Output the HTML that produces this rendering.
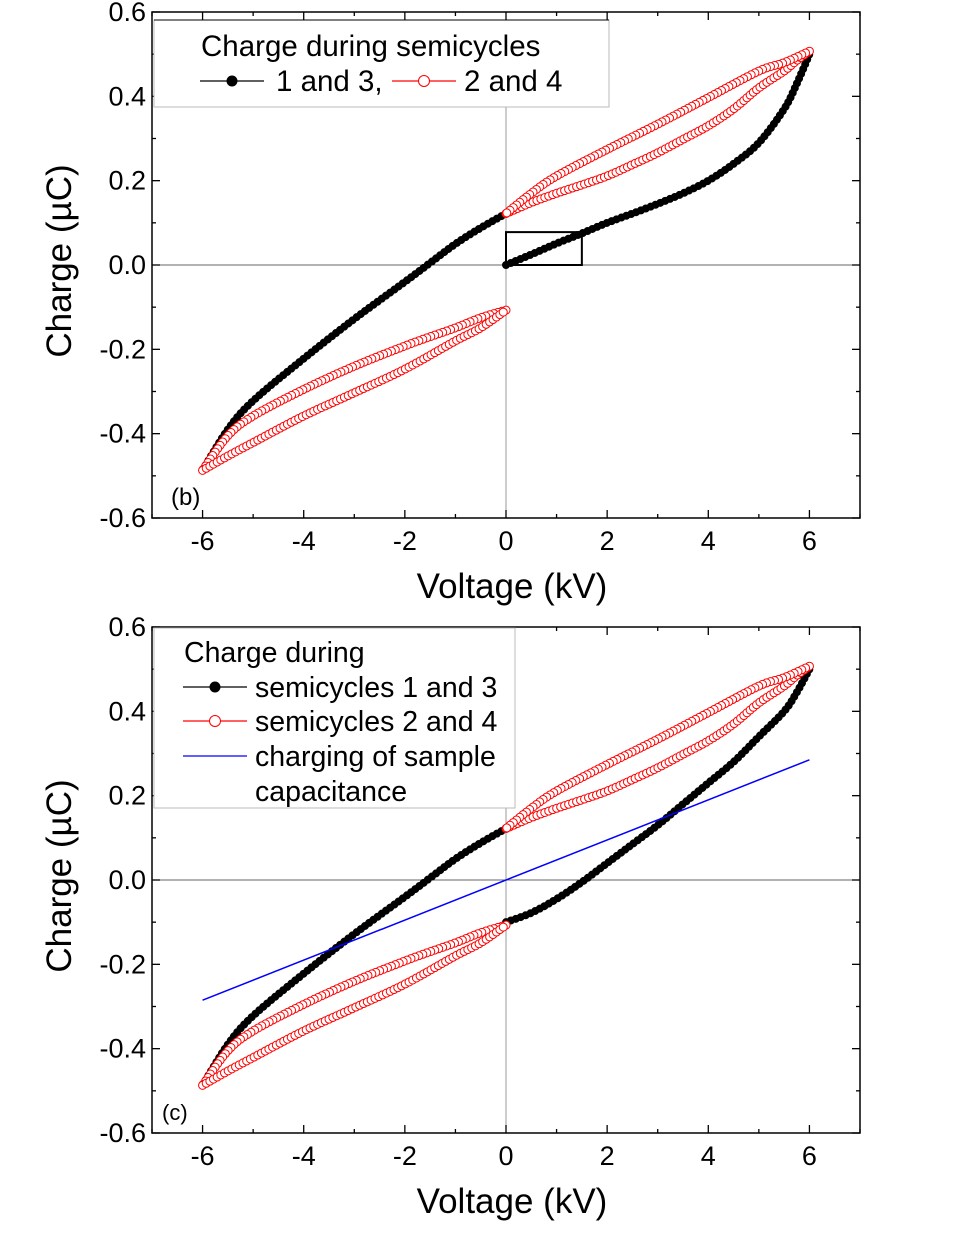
<!DOCTYPE html>
<html><head><meta charset="utf-8"><style>
html,body{margin:0;padding:0;background:#fff;}
svg{display:block;font-family:"Liberation Sans",sans-serif;}
</style></head><body>
<svg id="chart" width="980" height="1240" viewBox="0 0 980 1240" xmlns="http://www.w3.org/2000/svg"></svg>
<script>
// ---- data (kV, µC) ----
const vUp = [0,0.5,1,1.5,2,2.5,3,3.5,4,4.5,5,5.5,5.75,6];
const vDown = [6,5.5,5,4,3,2,1,0.5,0];
const vNegDown = [0,-0.5,-1,-1.5,-2,-3,-4,-5,-5.5,-6];
const vNegUp = [-6,-5.5,-5,-4,-3,-2,-1,-0.5,0];
// panel b
const bInitial = [0,0.025,0.051,0.075,0.1,0.122,0.145,0.17,0.2,0.24,0.29,0.37,0.43,0.5];
const upperPos = [0.507,0.48,0.46,0.397,0.334,0.274,0.211,0.17,0.122];
const blackNegDown = [0.122,0.088,0.05,0.005,-0.04,-0.128,-0.222,-0.322,-0.39,-0.487];
const lowerNeg = [-0.487,-0.453,-0.421,-0.358,-0.303,-0.247,-0.18,-0.149,-0.107];
const redNegDown = [-0.107,-0.125,-0.149,-0.17,-0.192,-0.24,-0.295,-0.358,-0.405,-0.487];
const redPosUp = [0.122,0.148,0.17,0.19,0.211,0.238,0.266,0.298,0.33,0.37,0.42,0.46,0.485,0.507];
// panel c
const cBlackPosUp = [-0.1,-0.078,-0.045,-0.005,0.04,0.085,0.13,0.18,0.23,0.28,0.34,0.4,0.445,0.5];
const blueV = [-6,6];
const blueQ = [-0.285,0.285];
const xTicks = [-6,-4,-2,0,2,4,6];
const yTicks = [-0.6,-0.4,-0.2,0.0,0.2,0.4,0.6];

const NS = "http://www.w3.org/2000/svg";
const svg = document.getElementById('chart');
function el(tag, attrs, parent){
  const e = document.createElementNS(NS, tag);
  for (const k in attrs) e.setAttribute(k, attrs[k]);
  (parent||svg).appendChild(e);
  return e;
}
function panel(top, bottom, tag){
  const L=152, R=860;
  const sx = v => L + (v+7)/14*(R-L);
  const sy = q => bottom - (q+0.6)/1.2*(bottom-top);
  const g = el('g', {});
  
  
  const zx = el('line',{x1:sx(0),x2:sx(0),y1:top,y2:bottom,stroke:'#999','stroke-width':1},g);
  
  
  const zy = el('line',{x1:L,x2:R,y1:sy(0),y2:sy(0),stroke:'#666','stroke-width':1},g);
  
  
  for (let v=-7; v<=7; v++){
    const len = (v%2===0)?8:4;
    el('line',{x1:sx(v),x2:sx(v),y1:bottom,y2:bottom-len,stroke:'#000','stroke-width':1.3},g);
    el('line',{x1:sx(v),x2:sx(v),y1:top,y2:top+len,stroke:'#000','stroke-width':1.3},g);
  }
  for (let i=-6; i<=6; i++){
    const q=i/10, len=(i%2===0)?8:4;
    el('line',{x1:L,x2:L+len,y1:sy(q),y2:sy(q),stroke:'#000','stroke-width':1.3},g);
    el('line',{x1:R,x2:R-len,y1:sy(q),y2:sy(q),stroke:'#000','stroke-width':1.3},g);
  }
  xTicks.forEach(v=>{
    const t = el('text',{x:sx(v),y:bottom+32,'font-size':27,'text-anchor':'middle'},g);
    t.textContent = String(v);
    
    
  });
  yTicks.forEach(q=>{
    const t = el('text',{x:L-6,y:sy(q)+9,'font-size':27,'text-anchor':'end'},g);
    t.textContent = q.toFixed(1);
    
    
  });
  const xt = el('text',{x:512,y:bottom+80,'font-size':35,'text-anchor':'middle'},g);
  xt.textContent = 'Voltage (kV)';
  
  
  const cy=(top+bottom)/2-4;
  const yt = el('text',{x:71,y:cy,'font-size':35,'text-anchor':'middle',transform:`rotate(-90 71 ${cy})`},g);
  yt.textContent = 'Charge (\u00B5C)';
  
  
  const lab = el('text',{x:tag==='b'?171:162,y:bottom-13,'font-size':tag==='b'?24:22},g);
  lab.textContent = '('+tag+')';
  
  
  return {g,sx,sy,L,R,top,bottom};
}
function smoothPath(pts){
  let d = 'M'+pts[0][0].toFixed(2)+' '+pts[0][1].toFixed(2);
  for (let i=0;i<pts.length-1;i++){
    const p0=pts[Math.max(0,i-1)], p1=pts[i], p2=pts[i+1], p3=pts[Math.min(pts.length-1,i+2)];
    const c1=[p1[0]+(p2[0]-p0[0])/6, p1[1]+(p2[1]-p0[1])/6];
    const c2=[p2[0]-(p3[0]-p1[0])/6, p2[1]-(p3[1]-p1[1])/6];
    d += ' C'+c1.map(n=>n.toFixed(2)).join(' ')+' '+c2.map(n=>n.toFixed(2)).join(' ')+' '+p2.map(n=>n.toFixed(2)).join(' ');
  }
  return d;
}
function series(p, vs, qs, color, filled, name){
  const pts = vs.map((v,i)=>[p.sx(v), p.sy(qs[i])]);
  const path = el('path',{d:smoothPath(pts),fill:'none',stroke:color,'stroke-width':1.3},p.g);
  
  
  const len = path.getTotalLength();
  const step = filled?5.2:4.2;
  for (let s=0; s<=len; s+=step){
    const pt = path.getPointAtLength(s);
    const c = el('circle',{cx:pt.x,cy:pt.y,r:filled?3.5:4,fill:filled?'#000':'#fff',stroke:color,'stroke-width':1},p.g);
    
    
  }
}
function frame(p){
  const r = el('rect',{x:p.L,y:p.top,width:p.R-p.L,height:p.bottom-p.top,fill:'none',stroke:'#000','stroke-width':1.5},p.g);
  
  
}
function legendRow(g,x,y,color,filled,label,textX,fs){
  el('line',{x1:x,x2:x+64,y1:y,y2:y,stroke:color,'stroke-width':1.3},g);
  if (filled!==null) el('circle',{cx:x+32,cy:y,r:filled?5:5.5,fill:filled?'#000':'#fff',stroke:color,'stroke-width':1},g);
  const t = el('text',{x:textX,y:y+10,'font-size':fs},g);
  t.textContent = label;
  return t;
}

// ---- panel b ----
const pb = panel(12,518,'b');
series(pb, vUp, bInitial, '#000', true, 'semicycle-1-3-initial');
series(pb, vDown, upperPos, '#000', true, 'semicycle-1-3-upper');
series(pb, vNegDown, blackNegDown, '#000', true, 'semicycle-1-3-negative');
series(pb, vNegUp, lowerNeg, '#000', true, 'semicycle-1-3-lower');
series(pb, vNegDown, redNegDown, '#f00', false, 'semicycle-2-4-negative');
series(pb, vNegUp, lowerNeg, '#f00', false, 'semicycle-2-4-negative-return');
series(pb, vUp, redPosUp, '#f00', false, 'semicycle-2-4-positive');
series(pb, vDown, upperPos, '#f00', false, 'semicycle-2-4-positive-return');
const box = el('rect',{x:pb.sx(0),y:pb.sy(0.078),width:pb.sx(1.5)-pb.sx(0),height:pb.sy(0)-pb.sy(0.078),fill:'none',stroke:'#000','stroke-width':2},pb.g);


frame(pb);
const lb = el('g',{});


el('rect',{x:154,y:20,width:455,height:87,fill:'#fff',stroke:'#bbb','stroke-width':1},lb);
el('line',{x1:154,x2:609,y1:20,y2:20,stroke:'#000','stroke-width':1},lb);
const lbt = el('text',{x:201,y:56,'font-size':29.5},lb);
lbt.textContent = 'Charge during semicycles';
legendRow(lb,200,81,'#000',true,'1 and 3,',276,29.5);
legendRow(lb,392,81,'#f00',false,'2 and 4',464,29.5);

// ---- panel c ----
const pc = panel(627,1133,'c');
series(pc, vNegDown, blackNegDown, '#000', true, 'semicycle-1-3-negative');
series(pc, vUp, cBlackPosUp, '#000', true, 'semicycle-1-3-positive');
series(pc, vNegUp, lowerNeg, '#000', true, 'semicycle-1-3-lower');
series(pc, vDown, upperPos, '#000', true, 'semicycle-1-3-upper');
series(pc, vNegDown, redNegDown, '#f00', false, 'semicycle-2-4-negative');
series(pc, vNegUp, lowerNeg, '#f00', false, 'semicycle-2-4-negative-return');
series(pc, vUp, redPosUp, '#f00', false, 'semicycle-2-4-positive');
series(pc, vDown, upperPos, '#f00', false, 'semicycle-2-4-positive-return');
const blue = el('line',{x1:pc.sx(blueV[0]),y1:pc.sy(blueQ[0]),x2:pc.sx(blueV[1]),y2:pc.sy(blueQ[1]),stroke:'#00f','stroke-width':1.5},pc.g);


frame(pc);
const lc = el('g',{});


el('rect',{x:154,y:628,width:361,height:180,fill:'#fff',stroke:'#bbb','stroke-width':1},lc);
const lct = el('text',{x:184,y:662,'font-size':28.5},lc);
lct.textContent = 'Charge during';
legendRow(lc,183,687,'#000',true,'semicycles 1 and 3',255,28.5);
legendRow(lc,183,721,'#f00',false,'semicycles 2 and 4',255,28.5);
legendRow(lc,183,756,'#00f',null,'charging of sample',255,28.5);
const lc2 = el('text',{x:255,y:801,'font-size':28.5},lc);
lc2.textContent = 'capacitance';
</script>
</body></html>
